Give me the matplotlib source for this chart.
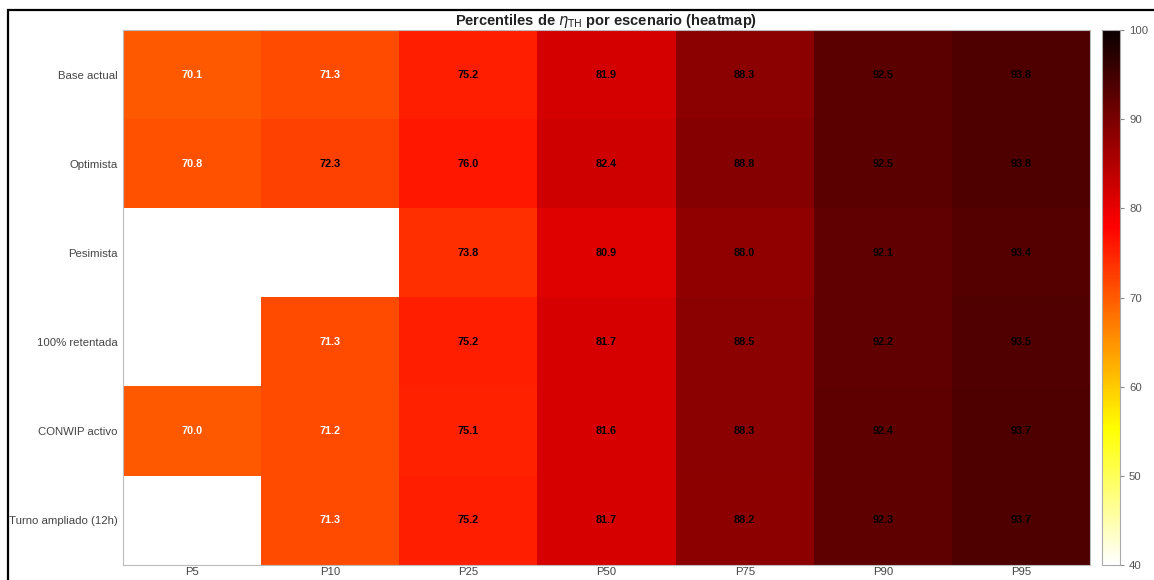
import numpy as np
import matplotlib
matplotlib.use("Agg")
import matplotlib.pyplot as plt
from matplotlib.patches import Rectangle

plt.rcParams["font.family"] = ["Liberation Sans", "DejaVu Sans"]

escenarios = ["Base actual", "Optimista", "Pesimista", "100% retentada",
              "CONWIP activo", "Turno ampliado (12h)"]
percentiles = ["P5", "P10", "P25", "P50", "P75", "P90", "P95"]

base_actual = [70.1, 71.3, 75.2, 81.9, 88.3, 92.5, 93.8]
optimista = [70.8, 72.3, 76.0, 82.4, 88.8, 92.5, 93.8]
pesimista = [np.nan, np.nan, 73.8, 80.9, 88.0, 92.1, 93.4]
retentada = [np.nan, 71.3, 75.2, 81.7, 88.5, 92.2, 93.5]
conwip = [70.0, 71.2, 75.1, 81.6, 88.3, 92.4, 93.7]
turno_ampliado = [np.nan, 71.3, 75.2, 81.7, 88.2, 92.3, 93.7]

tabla = np.array([base_actual, optimista, pesimista, retentada, conwip, turno_ampliado])

fig = plt.figure(figsize=(11.54, 5.8), dpi=100)
ax = fig.add_axes([0.1066, 0.026, 0.838, 0.922])
cax = fig.add_axes([0.955, 0.026, 0.0156, 0.922])

im = ax.imshow(np.ma.masked_invalid(tabla), cmap="hot_r", vmin=40, vmax=100,
               aspect="auto", interpolation="nearest")

for i in range(tabla.shape[0]):
    for j in range(tabla.shape[1]):
        v = tabla[i, j]
        if np.isnan(v):
            continue
        ax.text(j, i, f"{v:.1f}", ha="center", va="center", fontsize=7.8,
                fontweight="bold", color="white" if v < 72 else "black")

ax.set_xticks(range(len(percentiles)))
ax.set_xticklabels(percentiles)
ax.set_yticks(range(len(escenarios)))
ax.set_yticklabels(escenarios)
ax.tick_params(length=0, labelsize=8.2, labelcolor="#444444")
ax.tick_params(axis="x", pad=1.5)
ax.tick_params(axis="y", pad=4)
for s in ax.spines.values():
    s.set_color("#bbbbbb")
ax.set_title(r"Percentiles de $\eta_{\mathrm{TH}}$ por escenario (heatmap)",
             fontsize=10.5, fontweight="bold", color="#222222", pad=3)

cb = fig.colorbar(im, cax=cax)
cb.outline.set_edgecolor("#aaaaaa")
cb.ax.tick_params(labelsize=8.2, labelcolor="#555555", color="#888888", length=3)
cb.set_label(r"$\eta_{\mathrm{TH}}$ (%)", fontsize=8.2, color="#555555", labelpad=6)

# outer frame line along the top and left edges
fig.add_artist(Rectangle((0.0065, -0.1), 1.2, 1.083, transform=fig.transFigure,
                         fill=False, edgecolor="black", linewidth=1.6))

fig.savefig("out.png", dpi=100)
